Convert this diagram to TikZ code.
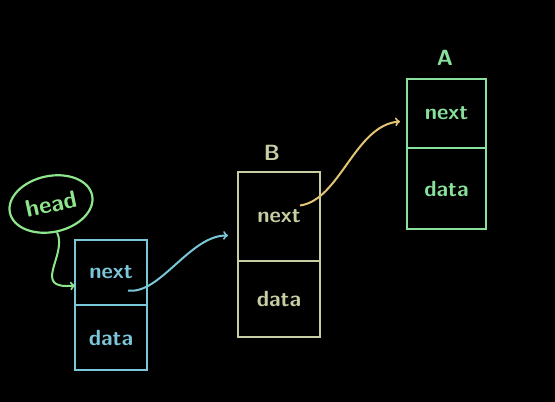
\documentclass[tikz,border=0pt]{standalone}
\usetikzlibrary{positioning,shapes.geometric}
\definecolor{headgreen}{HTML}{8EE68C}
\definecolor{chalkblue}{HTML}{7CC6DA}
\definecolor{chalkbeige}{HTML}{C8CEA4}
\definecolor{chalkgreen}{HTML}{88E09C}
\definecolor{chalkyellow}{HTML}{E2C472}
\begin{document}
\begin{tikzpicture}[
        x=1pt, y=-1pt,
        every node/.style={text centered, line width=2.2pt, font=\sffamily\bfseries\fontsize{22}{26}\selectfont},
        cell/.style={draw, rectangle, inner sep=0pt, outer sep=0pt},
        link/.style={draw, ->, line width=2pt},
    ]
    \fill[black] (0,0) rectangle (555,402);

    \node[draw=headgreen, text=headgreen, ellipse, inner sep=0pt, minimum width=84pt, minimum height=56pt, rotate=12, font=\sffamily\bfseries\fontsize{24}{28}\selectfont](head) at (51,204){head};

    \node[cell, draw=chalkblue, text=chalkblue, minimum width=72pt, minimum height=65pt](Cnext) at (111,272.5){next};
    \node[cell, draw=chalkblue, text=chalkblue, minimum width=72pt, minimum height=65pt, below=0pt of Cnext](Cdata){data};

    \node[cell, draw=chalkbeige, text=chalkbeige, minimum width=82pt, minimum height=89pt](Bnext) at (279,216.5){next};
    \node[cell, draw=chalkbeige, text=chalkbeige, minimum width=82pt, minimum height=76pt, below=0pt of Bnext](Bdata){data};
    \node[text=chalkbeige](labB) at (272,153){B};

    \node[cell, draw=chalkgreen, text=chalkgreen, minimum width=79pt, minimum height=69pt](Anext) at (446.5,113.5){next};
    \node[cell, draw=chalkgreen, text=chalkgreen, minimum width=79pt, minimum height=81pt, below=0pt of Anext](Adata){data};
    \node[text=chalkgreen](labA) at (445,58){A};

    \coordinate (Cptr) at ([xshift=17pt,yshift=-18pt]Cnext.center);
    \coordinate (Bptr) at ([xshift=21pt,yshift=11pt]Bnext.center);

    \draw[link, headgreen] (head.south) .. controls (68,255) and (30,290) .. ([yshift=-13pt]Cnext.west);
    \draw[link, chalkblue] (Cptr) .. controls (160,295) and (190,235) .. ([xshift=-10pt,yshift=-19pt]Bnext.west);
    \draw[link, chalkyellow] (Bptr) .. controls (340,200) and (355,125) .. ([xshift=-7pt,yshift=-8pt]Anext.west);
\end{tikzpicture}
\end{document}
